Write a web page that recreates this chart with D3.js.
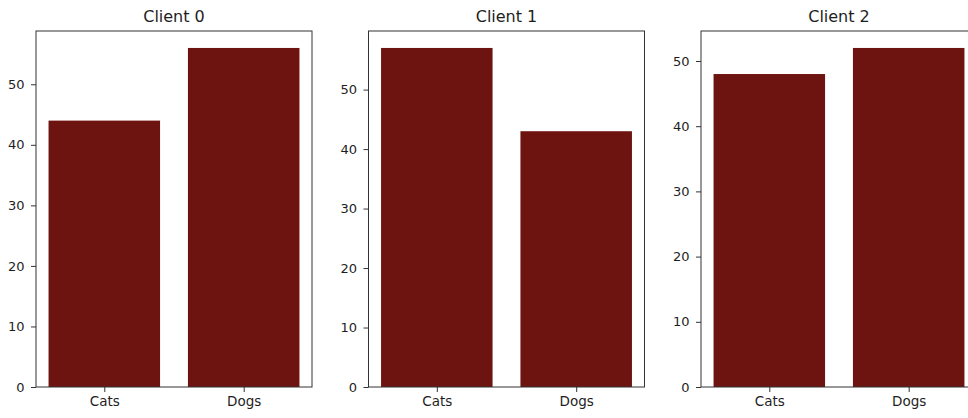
<!DOCTYPE html>
<html>
<head>
<meta charset="utf-8">
<script src="https://cdn.jsdelivr.net/npm/d3@7"></script>
<style>
  html, body { margin: 0; padding: 0; background: #fff; }
  svg { display: block; font-family: "DejaVu Sans", sans-serif; }
</style>
</head>
<body>
<svg id="chart" width="968" height="418"></svg>
<script>
// Counts per client
const clients = ["Client 0", "Client 1", "Client 2"];
const categories = ["Cats", "Dogs"];
const catCounts = [44, 57, 48];
const dogCounts = [56, 43, 52];
const yTicks = [0, 10, 20, 30, 40, 50];

const barColor = "#6d1411";
const axisColor = "#333";
const textColor = "#1e1e1e";
const fontFamily = "DejaVu Sans, sans-serif";

const svg = d3.select("#chart");

const panelLeft = 36, panelStep = 332.5, panelWidth = 276;
const panelTop = 31, panelBottom = 387;

clients.forEach((name, i) => {
  const values = [catCounts[i], dogCounts[i]];
  const x0 = panelLeft + i * panelStep;
  const g = svg.append("g").attr("transform", `translate(${x0},0)`);

  // matplotlib-style limits: bars of width 0.8, 5% margins
  const x = d3.scaleLinear().domain([-0.49, 1.49]).range([0, panelWidth]);
  const y = d3.scaleLinear().domain([0, d3.max(values) * 1.05]).range([panelBottom, panelTop]);

  g.selectAll("rect.bar")
    .data(values)
    .join("rect")
    .attr("class", "bar")
    .attr("x", (d, j) => x(j - 0.4))
    .attr("width", (d, j) => x(j + 0.4) - x(j - 0.4))
    .attr("y", d => y(d))
    .attr("height", d => y(0) - y(d))
    .attr("fill", barColor);

  // frame
  g.append("rect")
    .attr("x", 0).attr("y", panelTop)
    .attr("width", panelWidth).attr("height", panelBottom - panelTop)
    .attr("fill", "none").attr("stroke", axisColor).attr("stroke-width", 1);

  // y axis
  const yAxis = d3.axisLeft(y).tickValues(yTicks).tickFormat(d3.format("d"))
    .tickSize(5).tickPadding(6.5);
  const ya = g.append("g").call(yAxis)
    .attr("font-family", fontFamily).attr("font-size", 13);
  ya.select(".domain").remove();
  ya.selectAll("line").attr("stroke", axisColor);
  ya.selectAll("text").attr("fill", textColor);

  // x axis
  const xAxis = d3.axisBottom(x).tickValues([0, 1]).tickFormat(j => categories[j])
    .tickSize(5).tickPadding(4);
  const xa = g.append("g").attr("transform", `translate(0,${panelBottom})`).call(xAxis)
    .attr("font-family", fontFamily).attr("font-size", 13.5);
  xa.select(".domain").remove();
  xa.selectAll("line").attr("stroke", axisColor);
  xa.selectAll("text").attr("fill", textColor);

  // title
  g.append("text")
    .attr("x", panelWidth / 2).attr("y", 22)
    .attr("text-anchor", "middle")
    .attr("fill", textColor)
    .attr("font-family", fontFamily)
    .attr("font-size", 16)
    .text(name);
});
</script>
</body>
</html>
